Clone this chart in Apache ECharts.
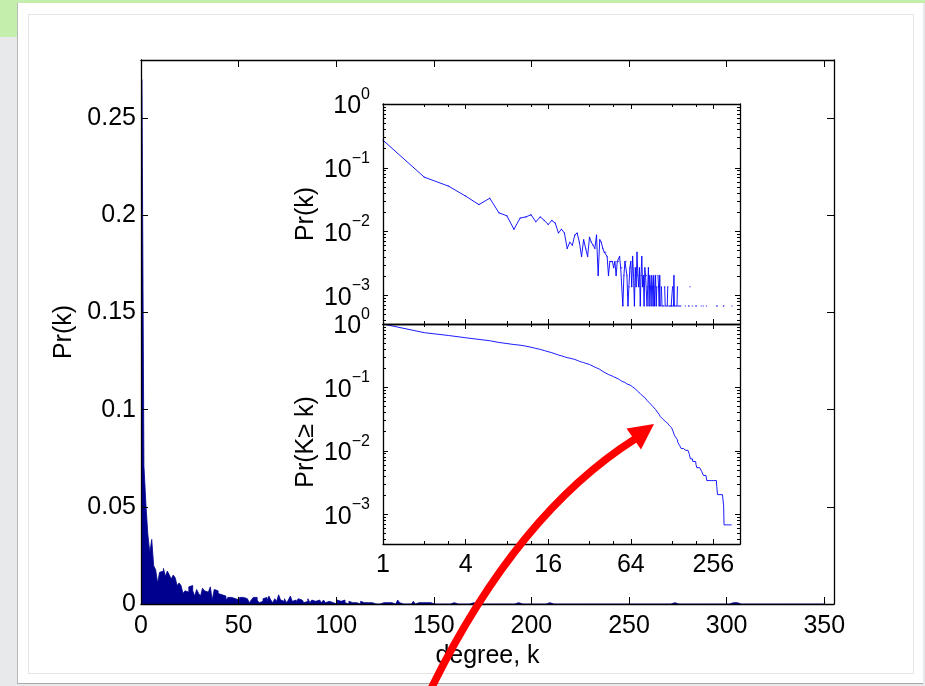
<!DOCTYPE html>
<html>
<head>
<meta charset="utf-8">
<script src="https://cdn.jsdelivr.net/npm/echarts@6/dist/echarts.min.js"></script>
<style>
  html, body { margin: 0; padding: 0; }
  body { width: 925px; height: 686px; background: #e8e9eb; position: relative; overflow: hidden; }
  .blk { position: absolute; }
  #greenTop { left: 0; top: 0; width: 925px; height: 3px; background: #c3eeab; }
  #greenLeft { left: 0; top: 0; width: 17px; height: 37px; background: #c3eeab; }
  #card { left: 17px; top: 3px; width: 905px; height: 680px; background: #fff;
          border-left: 1px solid #b8b8b8; border-bottom: 1px solid #a9a9a9; }
  #frame { left: 28px; top: 14px; width: 884px; height: 658px; border: 1px solid #e4e4e4; }
  #chart { position: absolute; left: 0; top: 0; width: 925px; height: 686px; }
</style>
</head>
<body>
<div class="blk" id="greenTop"></div>
<div class="blk" id="greenLeft"></div>
<div class="blk" id="card"></div>
<div class="blk" id="frame"></div>
<div id="chart"></div>
<script>
// Number of nodes having degree k, for k = 1..150
const countsLow = [
  398, 105, 76, 53, 39, 49, 29, 26, 16, 24,
  25, 27, 21, 25, 22, 19, 22, 20, 14, 16,
  14, 8, 10, 9, 13, 14, 10, 6, 11, 8,
  6, 12, 10, 9, 8, 13, 3, 11, 10, 8,
  7, 7, 6, 3, 5, 5, 5, 4, 5, 3,
  5, 5, 6, 4, 4, 1, 3, 5, 5, 3,
  1, 2, 4, 5, 2, 6, 3, 1, 4, 2,
  7, 3, 2, 4, 1, 3, 6, 2, 3, 1,
  4, 3, 3, 1, 2, 4, 1, 3, 2, 1,
  3, 2, 1, 3, 1, 2, 3, 1, 2, 0,
  3, 2, 1, 3, 1, 0, 2, 1, 0, 1,
  1, 0, 2, 1, 0, 1, 0, 1, 2, 0,
  1, 0, 1, 1, 0, 1, 1, 1, 2, 0,
  1, 3, 1, 0, 1, 0, 1, 0, 1, 2,
  0, 1, 0, 1, 0, 1, 0, 1, 0, 0
];
// Sparse tail of the degree distribution (k > 150)
const tailDegrees = [160, 169, 170, 173, 180, 190, 193, 209, 216, 228, 270, 273, 303, 305, 350];
const tailCounts  = [1, 1, 1, 2, 1, 1, 1, 1, 1, 1, 1, 1, 1, 1, 1];

// Tick values
const mainXTicks = [0, 50, 100, 150, 200, 250, 300, 350];
const mainYTicks = [0, 0.05, 0.1, 0.15, 0.2, 0.25];
const insetXTicks = [1, 4, 16, 64, 256];
const insetXMinorTicks = [2, 3, 8, 12, 32, 48, 128, 192];
const insetYTicks = [0.001, 0.01, 0.1, 1];
const insetYMinorMantissas = [2, 3, 4, 5, 6, 7, 8, 9];
const insetYMinorDecades = [0.0001, 0.001, 0.01, 0.1];

// ---- derived tables ----
const maxDegree = 350;
const counts = new Array(maxDegree).fill(0);
countsLow.forEach((c, i) => { counts[i] = c; });
tailDegrees.forEach((k, i) => { counts[k - 1] += tailCounts[i]; });
const N = counts.reduce((a, b) => a + b, 0);
const pk = counts.map(c => c / N);
const ccdf = new Array(maxDegree);
let acc = 0;
for (let i = maxDegree - 1; i >= 0; i--) { acc += counts[i]; ccdf[i] = acc / N; }

const lg2 = Math.log2, lg10 = Math.log10;
const X_MIN = 0, X_MAX = lg2(400);          // inset k-range 1..400 (log2 units)
const Y1_MIN = -3.45, Y2_MIN = -3.47, Y_MAX = 0; // inset probability ranges (log10 units)

const FONT = "'Liberation Sans', Arial, Helvetica, sans-serif";
const AX_LINE = { color: '#000', width: 1.3 };
const TICK_LINE = { color: '#000', width: 1 };
const BAR_COLOR = '#00008f';

const xInsetMajor = insetXTicks.map(lg2);
const xInsetMinor = insetXMinorTicks.map(lg2);
const yInsetMajor = insetYTicks.map(v => Math.round(lg10(v)));
const yInsetMinor = [];
insetYMinorDecades.forEach(d => insetYMinorMantissas.forEach(m => yInsetMinor.push(lg10(m * d))));

function axis(o) {
  const a = {
    type: 'value', gridIndex: o.grid, position: o.pos, min: o.min, max: o.max,
    silent: true, z: 6,
    axisLine: { show: !!o.line, onZero: false, lineStyle: AX_LINE },
    axisTick: { show: true, inside: true, length: o.len, customValues: o.ticks, lineStyle: TICK_LINE },
    axisLabel: o.label ? Object.assign({ show: true, customValues: o.ticks, color: '#000',
                 fontFamily: FONT, fontSize: 25 }, o.label) : { show: false },
    splitLine: { show: false },
    minorTick: { show: false },
    minorSplitLine: { show: false }
  };
  if (o.name) {
    a.name = o.name;
    a.nameLocation = 'middle';
    a.nameGap = o.nameGap;
    a.nameTextStyle = Object.assign({ fontFamily: FONT, fontSize: 25, color: '#000' }, o.nameStyle || {});
  }
  return a;
}

const supLabel = {
  margin: 13,
  formatter: v => {
    const e = Math.round(v);
    return '{b|10}{s|' + (e === 0 ? '0' : '\u2212' + Math.abs(e)) + '}';
  },
  rich: {
    b: { fontFamily: FONT, fontSize: 25, lineHeight: 40, color: '#000' },
    s: { fontFamily: FONT, fontSize: 16, lineHeight: 16, verticalAlign: 'top', color: '#000' }
  },
  padding: [5, 0, 0, 0]
};

const xAxes = [
  // main plot
  axis({ grid: 0, pos: 'bottom', min: 0, max: 355, line: true, len: 7, ticks: mainXTicks,
         label: { margin: 10 }, name: 'degree, k', nameGap: 35 }),
  axis({ grid: 0, pos: 'top', min: 0, max: 355, line: true, len: 7, ticks: mainXTicks }),
  // upper inset
  axis({ grid: 1, pos: 'bottom', min: X_MIN, max: X_MAX, line: true, len: 5, ticks: xInsetMajor }),
  axis({ grid: 1, pos: 'bottom', min: X_MIN, max: X_MAX, len: 3, ticks: xInsetMinor }),
  axis({ grid: 1, pos: 'top', min: X_MIN, max: X_MAX, line: true, len: 5, ticks: xInsetMajor }),
  axis({ grid: 1, pos: 'top', min: X_MIN, max: X_MAX, len: 3, ticks: xInsetMinor }),
  // lower inset
  axis({ grid: 2, pos: 'bottom', min: X_MIN, max: X_MAX, line: true, len: 5, ticks: xInsetMajor,
         label: { margin: 9, formatter: v => String(Math.round(Math.pow(2, v))) } }),
  axis({ grid: 2, pos: 'bottom', min: X_MIN, max: X_MAX, len: 3, ticks: xInsetMinor }),
  axis({ grid: 2, pos: 'top', min: X_MIN, max: X_MAX, line: true, len: 5, ticks: xInsetMajor }),
  axis({ grid: 2, pos: 'top', min: X_MIN, max: X_MAX, len: 3, ticks: xInsetMinor })
];

const yAxes = [
  // main plot
  axis({ grid: 0, pos: 'left', min: 0, max: 0.28, line: true, len: 7, ticks: mainYTicks,
         label: { margin: 5, formatter: v => String(v) }, name: 'Pr(k)', nameGap: 58 }),
  axis({ grid: 0, pos: 'right', min: 0, max: 0.28, line: true, len: 7, ticks: mainYTicks }),
  // upper inset
  axis({ grid: 1, pos: 'left', min: Y1_MIN, max: Y_MAX, line: true, len: 5, ticks: yInsetMajor,
         label: supLabel, name: 'Pr(k)', nameGap: 64 }),
  axis({ grid: 1, pos: 'left', min: Y1_MIN, max: Y_MAX, len: 3, ticks: yInsetMinor }),
  axis({ grid: 1, pos: 'right', min: Y1_MIN, max: Y_MAX, line: true, len: 5, ticks: yInsetMajor }),
  axis({ grid: 1, pos: 'right', min: Y1_MIN, max: Y_MAX, len: 3, ticks: yInsetMinor }),
  // lower inset
  axis({ grid: 2, pos: 'left', min: Y2_MIN, max: Y_MAX, line: true, len: 5, ticks: yInsetMajor,
         label: supLabel, name: 'Pr(K\u2265 k)', nameGap: 64, nameStyle: { padding: [0, 16, 0, 0] } }),
  axis({ grid: 2, pos: 'left', min: Y2_MIN, max: Y_MAX, len: 3, ticks: yInsetMinor }),
  axis({ grid: 2, pos: 'right', min: Y2_MIN, max: Y_MAX, line: true, len: 5, ticks: yInsetMajor }),
  axis({ grid: 2, pos: 'right', min: Y2_MIN, max: Y_MAX, len: 3, ticks: yInsetMinor })
];

// Histogram columns span [k - 0.5, k + 0.5]; each value is held from its left edge
const barEdges = pk.map((p, i) => [i + 1 - 0.5, p]);
barEdges.push([maxDegree + 0.5, pk[maxDegree - 1]]);
const pmfLogData = pk.map((p, i) => p > 0 ? [lg2(i + 1), lg10(p)] : [lg2(i + 1), '-']);
const ccdfLogData = ccdf.map((p, i) => [lg2(i + 1), lg10(p)]);

const option = {
  backgroundColor: 'transparent',
  animation: false,
  textStyle: { fontFamily: FONT },
  grid: [
    { left: 141, top: 60, width: 693, height: 544 },
    { left: 383, top: 104, width: 357, height: 220, show: true, backgroundColor: '#fff', borderWidth: 0 },
    { left: 383, top: 324, width: 357, height: 220, show: true, backgroundColor: '#fff', borderWidth: 0 }
  ],
  xAxis: xAxes,
  yAxis: yAxes,
  series: [
    {
      // degree histogram drawn as one filled outline of unit-wide columns
      type: 'line', xAxisIndex: 0, yAxisIndex: 0, data: barEdges, silent: true,
      step: 'end', showSymbol: false,
      lineStyle: { color: BAR_COLOR, width: 0.8 },
      areaStyle: { color: BAR_COLOR, opacity: 1, origin: 'start' }
    },
    {
      type: 'line', xAxisIndex: 2, yAxisIndex: 2, data: pmfLogData, silent: true,
      showSymbol: true, showAllSymbol: true, symbol: 'circle', symbolSize: 1.5,
      itemStyle: { color: '#0000ff', opacity: 0.6, borderWidth: 0 },
      lineStyle: { color: '#0000ff', width: 0.9 }, connectNulls: false, z: 4
    },
    {
      type: 'line', xAxisIndex: 6, yAxisIndex: 6, data: ccdfLogData, silent: true,
      showSymbol: false, lineStyle: { color: '#0000ff', width: 0.9 }, z: 4
    }
  ],
  graphic: [
    {
      type: 'bezierCurve', z: 100, silent: true,
      shape: { x1: 428, y1: 695, cpx1: 515, cpy1: 515, x2: 635, y2: 439 },
      style: { stroke: '#ff0000', lineWidth: 7.5, fill: null }
    },
    {
      type: 'polygon', z: 100, silent: true,
      shape: { points: [[654, 424], [626.5, 428.5], [641, 449.5]] },
      style: { fill: '#ff0000' }
    }
  ]
};

const chart = echarts.init(document.getElementById('chart'), null, { renderer: 'canvas' });
chart.setOption(option);
</script>
</body>
</html>
